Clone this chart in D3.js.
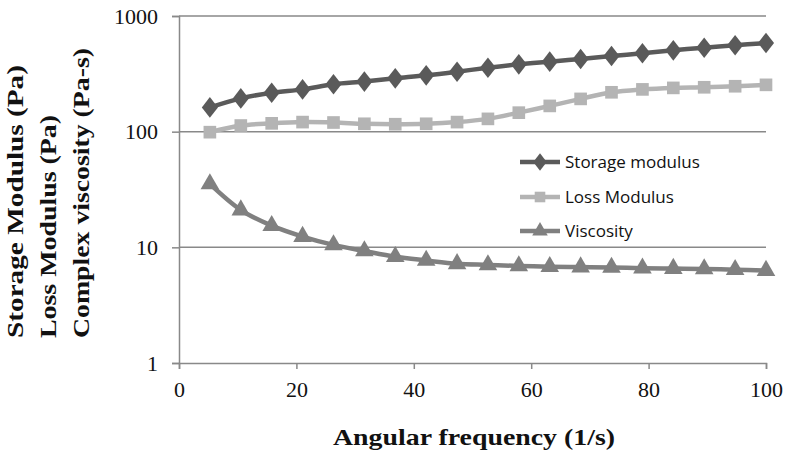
<!DOCTYPE html>
<html><head><meta charset="utf-8">
<script src="https://cdn.jsdelivr.net/npm/d3@7"></script>
<style>body{margin:0;background:#fff}svg{display:block}
.serif{font-family:"Times New Roman","Liberation Serif",Tinos,Times,serif}</style>
</head><body>
<svg id="chart" width="786" height="452"></svg>
<script>
const frequency = [5.26,10.53,15.79,21.05,26.32,31.58,36.84,42.11,47.37,52.63,57.89,63.16,68.42,73.68,78.95,84.21,89.47,94.74,100];
const storageModulus = [162,194,217,232,257,271,289,307,330,357,382,403,425,451,476,505,532,558,584];
const lossModulus = [99,113,118,121,120,117,116,117,121,129,146,167,192,219,232,239,242,247,254];
const viscosity = [35.3,21.0,15.4,12.4,10.5,9.3,8.3,7.7,7.2,7.05,6.9,6.8,6.75,6.7,6.6,6.55,6.5,6.4,6.3];
const xTicks = [0,20,40,60,80,100];
const yTicks = [1,10,100,1000];
const seriesNames = ["Storage modulus","Loss Modulus","Viscosity"];
const yTitleLines = ["Storage Modulus (Pa)","Loss Modulus (Pa)","Complex viscosity (Pa-s)"];
const xTitle = "Angular frequency (1/s)";

const svg = d3.select("#chart");
const x = d3.scaleLinear().domain([0,100]).range([179,766]);
const y = d3.scaleLog().domain([1,1000]).range([363,16]);
const axisColor = "#898989";

// gridlines
svg.append("g").selectAll("line").data(yTicks.filter(d=>d>1)).join("line")
  .attr("x1",x(0)).attr("x2",x(100)).attr("y1",d=>y(d)).attr("y2",d=>y(d))
  .attr("stroke",axisColor).attr("stroke-width",1.5);

// y axis
const yAxis = svg.append("g").attr("transform",`translate(${x(0)},0)`)
  .call(d3.axisLeft(y).tickValues(yTicks).tickFormat(d3.format("d")).tickSize(7).tickPadding(14));
// x axis
const xAxis = svg.append("g").attr("transform",`translate(0,${y(1)})`)
  .call(d3.axisBottom(x).tickValues(xTicks).tickSize(6).tickPadding(12));
[yAxis,xAxis].forEach(a=>{
  a.attr("font-family",null).attr("font-size",null);
  a.select(".domain").attr("stroke",axisColor).attr("stroke-width",1.5);
  a.selectAll(".tick line").attr("stroke",axisColor).attr("stroke-width",1.5);
  a.selectAll(".tick text").attr("class","serif")
    .attr("font-size",22).attr("fill","#111");
});

const series = [
  {name:seriesNames[0], values:storageModulus, color:"#5a5a5a", shape:d3.symbolDiamond, size:170},
  {name:seriesNames[1], values:lossModulus, color:"#b4b4b4", shape:d3.symbolSquare, size:160},
  {name:seriesNames[2], values:viscosity, color:"#808080", shape:d3.symbolTriangle, size:150}
];
const line = d3.line().x((d,i)=>x(frequency[i])).y(d=>y(d)).curve(d3.curveCatmullRom);

series.forEach(s=>{
  const g = svg.append("g");
  g.append("path").attr("d",line(s.values)).attr("fill","none")
    .attr("stroke",s.color).attr("stroke-width",4.5);
  g.selectAll("path.m").data(s.values).join("path").attr("class","m")
    .attr("transform",(d,i)=>`translate(${x(frequency[i])},${y(d)})${s.shape===d3.symbolDiamond?" scale(1.15,0.85)":""}`)
    .attr("d",d3.symbol().type(s.shape).size(s.size)).attr("fill",s.color);
});

// legend
const legY = [162,197,231];
series.forEach((s,i)=>{
  const g = svg.append("g").attr("transform",`translate(0,${legY[i]})`);
  g.append("line").attr("x1",520).attr("x2",560).attr("stroke",s.color).attr("stroke-width",4.5);
  g.append("path").attr("transform",`translate(540,0)${s.shape===d3.symbolDiamond?" scale(1.15,0.85)":""}`)
    .attr("d",d3.symbol().type(s.shape).size(s.size*0.7)).attr("fill",s.color);
  g.append("text").attr("x",565).attr("y",0).attr("dy","0.35em")
    .attr("font-family","'Open Sans','Liberation Sans',sans-serif").attr("font-size",17)
    .attr("fill","#111").text(s.name);
});

// y title
const yBase = [23,56,89];
const yLens = [273,223,290];
yTitleLines.forEach((t,i)=>{
  svg.append("text").attr("class","serif").attr("transform",`translate(${yBase[i]},338) rotate(-90)`)
    .attr("font-weight","bold")
    .attr("font-size",24).attr("textLength",yLens[i]).attr("lengthAdjust","spacingAndGlyphs")
    .attr("fill","#111").text(t);
});
// x title
svg.append("text").attr("class","serif").attr("x",333).attr("y",445)
  .attr("font-weight","bold")
  .attr("font-size",24).attr("textLength",282).attr("lengthAdjust","spacingAndGlyphs")
  .attr("fill","#111").text(xTitle);
</script>
</body></html>
